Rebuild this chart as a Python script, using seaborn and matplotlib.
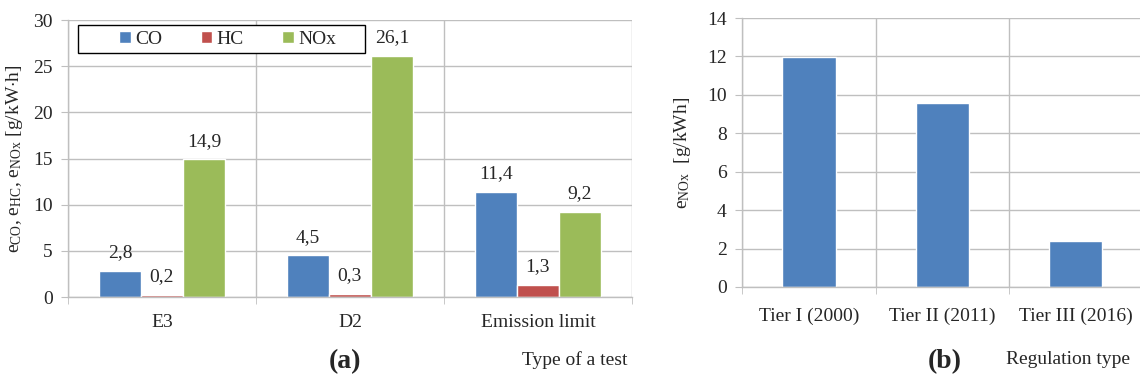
import numpy as np
import pandas as pd
import matplotlib
matplotlib.use('Agg')
import matplotlib.pyplot as plt
from matplotlib.ticker import FixedLocator
from matplotlib.patches import Rectangle
import seaborn as sns

# data
tests = ['E3', 'D2', 'Emission limit']
species = ['CO', 'HC', 'NOx']
co = [2.8, 4.5, 11.4]
hc = [0.2, 0.3, 1.3]
nox = [14.9, 26.1, 9.2]

tiers = ['Tier I (2000)', 'Tier II (2011)', 'Tier III (2016)']
nox_limit = [11.95, 9.6, 2.4]

colors = ['#4F81BD', '#C0504D', '#9BBB59']
grid_c = '#BFBFBF'

sns.set_style('white')
plt.rcParams['font.family'] = ['Liberation Serif', 'DejaVu Serif']
plt.rcParams['mathtext.fontset'] = 'custom'
plt.rcParams['mathtext.rm'] = 'Liberation Serif'
plt.rcParams['mathtext.it'] = 'Liberation Serif:italic'

df_a = pd.DataFrame({
    'test': np.repeat(tests, 3),
    'species': species * 3,
    'value': [v for trip in zip(co, hc, nox) for v in trip],
})
df_b = pd.DataFrame({'tier': tiers, 'nox': nox_limit})

fig = plt.figure(figsize=(11.4, 3.82), dpi=100)
ax1 = fig.add_axes([0.0596, 0.2225, 0.4947, 0.7251])
ax2 = fig.add_axes([0.651, 0.2487, 0.351, 0.704])

# panel (a)
sns.barplot(data=df_a, x='test', y='value', hue='species', order=tests,
            hue_order=species, palette=colors, width=0.67, ax=ax1,
            saturation=1, errorbar=None)
for cont, vals in zip(ax1.containers, [co, hc, nox]):
    ax1.bar_label(cont, labels=[f'{v:.1f}'.replace('.', ',') for v in vals],
                  padding=7, fontsize=14)
ax1.set_ylim(0, 30)
ax1.set_yticks(range(0, 31, 5))
ax1.set_xlim(-0.5, 2.5)
ax1.set_xlabel('')
ax1.set_ylabel(r'e$_{\mathrm{CO}}$, e$_{\mathrm{HC}}$, e$_{\mathrm{NOx}}$ [g/kW$\cdot$h]',
               fontsize=14)
ax1.yaxis.set_label_coords(-0.076, 0.5)

# legend: frameless entries inside a hand-placed box, like the original
ax1.add_patch(Rectangle((0.0177, 0.881), 0.509, 0.101, transform=ax1.transAxes,
                        facecolor='white', edgecolor='black', linewidth=1.0,
                        zorder=4))
leg = ax1.legend(loc='center', bbox_to_anchor=(0.283, 0.931), ncol=3,
                 fontsize=14, frameon=False, handlelength=0.6,
                 handleheight=0.6, handletextpad=0.2, columnspacing=2.0)
leg.set_zorder(5)

# panel (b)
sns.barplot(data=df_b, x='tier', y='nox', color=colors[0], width=0.4,
            ax=ax2, saturation=1, errorbar=None)
ax2.set_ylim(0, 14)
ax2.set_yticks(range(0, 15, 2))
ax2.set_xlim(-0.5, 2.5)
ax2.set_xlabel('')
ax2.set_ylabel(r'e$_{\mathrm{NOx}}$  [g/kWh]', fontsize=14)
ax2.yaxis.set_label_coords(-0.123, 0.5)

for ax in (ax1, ax2):
    ax.xaxis.set_minor_locator(FixedLocator([-0.5, 0.5, 1.5, 2.5]))
    ax.grid(axis='y', which='major', color=grid_c, linewidth=1)
    ax.grid(axis='x', which='minor', color=grid_c, linewidth=1)
    ax.set_axisbelow(True)
    ax.tick_params(axis='x', which='major', length=0, pad=12, labelsize=14)
    ax.tick_params(axis='x', which='minor', length=5, color=grid_c,
                   direction='out', bottom=True)
    ax.tick_params(axis='y', length=5, color=grid_c, pad=6, labelsize=14,
                   direction='out', left=True)
    for s in ('top', 'right'):
        ax.spines[s].set_visible(False)
    for s in ('left', 'bottom'):
        ax.spines[s].set_color(grid_c)
        ax.spines[s].set_linewidth(1)
ax2.tick_params(axis='x', which='major', pad=15)

fig.text(575 / 1140, 1 - 360 / 382, 'Type of a test', ha='center', va='center',
         fontsize=14)
fig.text(1068 / 1140, 1 - 360 / 382, 'Regulation type', ha='center',
         va='center', fontsize=14)
fig.text(345 / 1140, 1 - 362 / 382, '(a)', ha='center', va='center',
         fontsize=20, fontweight='bold')
fig.text(945 / 1140, 1 - 362 / 382, '(b)', ha='center', va='center',
         fontsize=20, fontweight='bold')

fig.savefig('out.png', dpi=100)
